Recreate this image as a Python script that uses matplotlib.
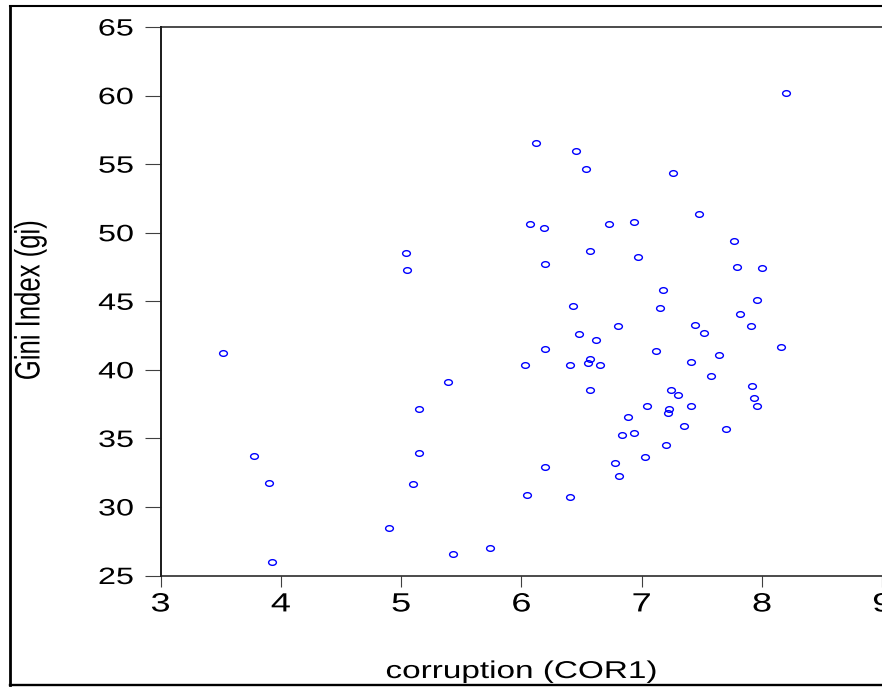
import matplotlib
matplotlib.use("Agg")
import matplotlib.pyplot as plt
from matplotlib.path import Path
from matplotlib.markers import MarkerStyle
from matplotlib.transforms import Affine2D
from matplotlib.patheffects import AbstractPathEffect
from matplotlib.lines import Line2D

# ---------------- data ----------------
corruption = [3.52, 3.78, 3.90, 3.93, 4.90, 5.04, 5.05, 5.10, 5.15, 5.15,
              5.39, 5.43, 5.74, 6.03, 6.05, 6.07, 6.12, 6.19, 6.20, 6.20,
              6.20, 6.40, 6.40, 6.43, 6.45, 6.48, 6.54, 6.55, 6.57, 6.57,
              6.57, 6.62, 6.65, 6.73, 6.78, 6.80, 6.81, 6.84, 6.89, 6.94,
              6.94, 6.97, 7.04, 7.03, 7.12, 7.15, 7.18, 7.20, 7.22, 7.23,
              7.24, 7.26, 7.30, 7.35, 7.41, 7.41, 7.44, 7.48, 7.52, 7.58,
              7.64, 7.70, 7.77, 7.79, 7.82, 7.91, 7.92, 7.93, 7.96, 7.96,
              8.00, 8.16, 8.20]
gini = [41.20, 33.74, 31.75, 25.98, 28.49, 48.55, 47.28, 31.70, 37.17, 33.94,
        39.11, 26.59, 26.98, 40.35, 30.89, 50.66, 56.57, 50.37, 47.74, 41.52,
        32.89, 40.35, 30.73, 44.66, 55.96, 42.59, 54.67, 40.50, 40.81, 48.65,
        38.55, 42.16, 40.35, 50.66, 33.21, 43.20, 32.24, 35.25, 36.58, 35.39,
        50.76, 48.21, 37.36, 33.62, 41.37, 44.49, 45.80, 34.50, 36.88, 37.14,
        38.55, 54.38, 38.19, 35.90, 40.57, 37.36, 43.25, 51.39, 42.67, 39.57,
        41.10, 35.69, 49.39, 47.50, 44.07, 43.20, 38.80, 37.95, 37.36, 45.10,
        47.43, 41.69, 60.19]
x_ticks = [3, 4, 5, 6, 7, 8, 9]
y_ticks = [25, 30, 35, 40, 45, 50, 55, 60, 65]
x_label = "corruption (COR1)"
y_label = "Gini Index (gi)"

W, H = 882, 687
STRETCH = 1.37


class HStretch(AbstractPathEffect):
    """Draw the text path stretched horizontally about its own centre."""
    def __init__(self, sx):
        super().__init__()
        self.sx = sx

    def draw_path(self, renderer, gc, tpath, affine, rgbFace=None):
        ext = tpath.transformed(affine).get_extents()
        cx = 0.5 * (ext.x0 + ext.x1)
        t = affine + Affine2D().translate(-cx, 0).scale(self.sx, 1).translate(cx, 0)
        renderer.draw_path(gc, tpath, t, rgbFace)


plt.rcParams['font.family'] = ['Liberation Sans', 'DejaVu Sans']

fig = plt.figure(figsize=(W / 100, H / 100), dpi=100)
fig.patch.set_facecolor('white')

left, right_px, top_px, bottom_px = 160.5, 882.3, 27.0, 575.5
ax = fig.add_axes([left / W, 1 - bottom_px / H, (right_px - left) / W,
                   (bottom_px - top_px) / H])

ellipse = Path.unit_circle().transformed(Affine2D().scale(1.37, 1.0))
ax.plot(corruption, gini, linestyle='none',
        marker=MarkerStyle(ellipse), markersize=5.6,
        markerfacecolor='none', markeredgecolor='#0000ff', markeredgewidth=1.0,
        clip_on=False)

ax.set_xlim(3, 9)
ax.set_ylim(25, 65)
ax.set_xticks(x_ticks)
ax.set_yticks(y_ticks)
ax.set_xticklabels([str(v) for v in x_ticks])
ax.set_yticklabels([str(v) for v in y_ticks])

ax.spines['right'].set_visible(False)
for s in ['top', 'bottom']:
    ax.spines[s].set_linewidth(1.1)
    ax.spines[s].set_color('#1a1a1a')
ax.spines['left'].set_linewidth(1.4)
ax.spines['left'].set_color('#1a1a1a')

ax.tick_params(axis='y', direction='out', length=11.2, width=0.8,
               color='#404040', labelsize=17, pad=11.4, labelcolor='black')
ax.tick_params(axis='x', direction='out', length=7.9, width=0.8,
               color='#404040', labelsize=19, pad=4.3, labelcolor='black')

ax.set_xlabel(x_label, fontsize=17.5)
ax.set_ylabel(y_label, fontsize=18.5)
ax.xaxis.set_label_coords(521 / W, 1 - 672 / H, transform=fig.transFigure)
ax.xaxis.label.set_va('center')
ax.yaxis.set_label_coords(30 / W, 1 - 300 / H, transform=fig.transFigure)
ax.yaxis.label.set_va('center')

pe = [HStretch(STRETCH)]
for t in ax.get_xticklabels() + ax.get_yticklabels() + [ax.xaxis.label, ax.yaxis.label]:
    t.set_path_effects(pe)

# outer frame of the exported graphic (right side is cropped off)
xl = 9.7 / W
yt = 1 - 6.0 / H
yb = 1 - 684.5 / H
fig.add_artist(Line2D([xl, xl], [yb, yt], transform=fig.transFigure,
                      color='black', linewidth=2.0, solid_capstyle='projecting'))
fig.add_artist(Line2D([xl, 1.01], [yt, yt], transform=fig.transFigure,
                      color='black', linewidth=1.5))
fig.add_artist(Line2D([xl, 1.01], [yb, yb], transform=fig.transFigure,
                      color='black', linewidth=1.7))

fig.savefig('out.png', dpi=100, facecolor='white')
